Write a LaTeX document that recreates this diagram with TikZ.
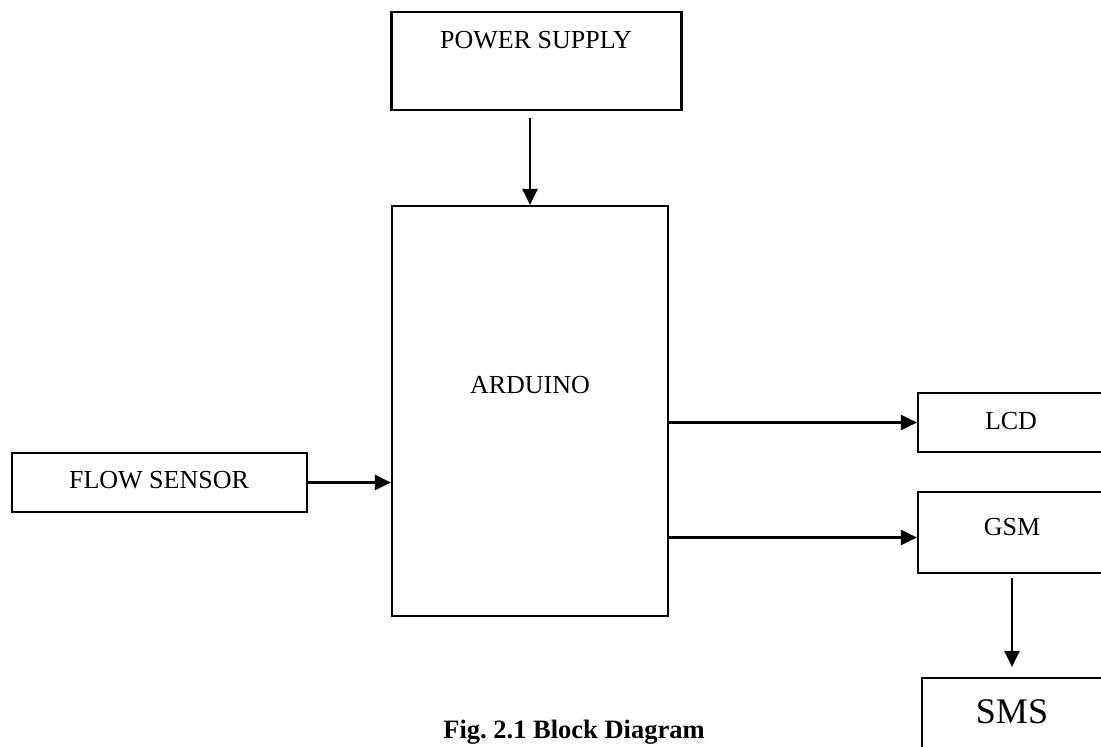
\documentclass[tikz,border=0pt]{standalone}
\usepackage{fontspec}
\setmainfont{Liberation Serif}
\usetikzlibrary{arrows.meta}
\frenchspacing
\begin{document}
\begin{tikzpicture}[x=1pt,y=-1pt,
  box/.style={draw=black,line width=2.2pt,fill=white,inner sep=0pt},
  txt/.style={inner sep=0pt,font=\fontsize{26}{30}\selectfont},
  arr/.style={draw=black,line width=2.4pt,-{Triangle[length=16pt,width=15pt]}}]
\useasboundingbox (0,0) rectangle (1101,747);
\clip (0,0) rectangle (1101,747);
\fill[white] (0,0) rectangle (1101,747);
% boxes
\node[box,minimum width=290pt,minimum height=98pt] (ps) at (536.5,61) {};
\node[txt] (pst) at (536,40) {POWER SUPPLY};
\node[box,minimum width=276pt,minimum height=410pt] (ard) at (530,411) {};
\node[txt] (ardt) at (530,385) {ARDUINO};
\node[box,minimum width=295pt,minimum height=59pt] (fs) at (159.5,482.5) {};
\node[txt] (fst) at (159,480) {FLOW SENSOR};
\node[box,minimum width=192pt,minimum height=59pt] (lcd) at (1014,422.5) {};
\node[txt] (lcdt) at (1011,421) {LCD};
\node[box,minimum width=192pt,minimum height=81pt] (gsm) at (1014,532.5) {};
\node[txt] (gsmt) at (1012,527) {GSM};
\node[box,minimum width=190pt,minimum height=90pt] (sms) at (1017,723) {};
\node[inner sep=0pt,font=\fontsize{36}{40}\selectfont] (smst) at (1012,712) {SMS};
\node[inner sep=0pt,font=\fontsize{26.5}{30}\selectfont\bfseries] (cap) at (574,732) {Fig. 2.1 Block Diagram};
% connectors
\draw[arr] ([yshift=-7pt]ps.south -| ard.north) -- (ard.north);
\draw[arr] (fs.east) -- (fs.east -| ard.west);
\draw[arr] (ard.east |- lcd.west) -- (lcd.west);
\draw[arr] (ard.east |- {0,537.5}) -- (lcd.west |- {0,537.5});
\draw[arr] ([yshift=-4pt]gsm.south -| gsmt) -- ([yshift=10pt]sms.north -| gsmt);
\end{tikzpicture}
\end{document}
